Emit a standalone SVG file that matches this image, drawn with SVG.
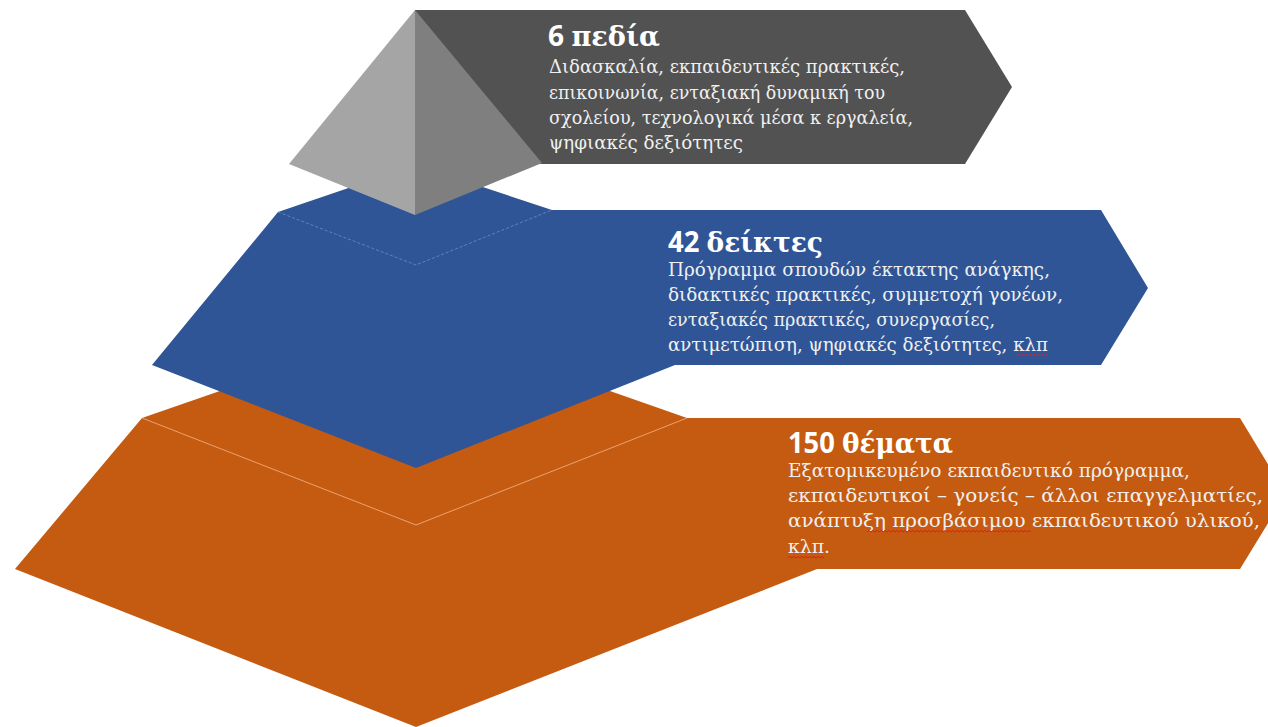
<svg xmlns="http://www.w3.org/2000/svg" width="1268" height="727" viewBox="0 0 1268 727">
<style>
.title{font-family:"Open Sans","Noto Sans",sans-serif;font-weight:bold;font-size:28px;fill:#ffffff}
.tg{font-family:"DejaVu Serif","Liberation Serif",serif;font-weight:bold;font-size:27px}
.body{font-family:"DejaVu Serif","Liberation Serif",serif;font-size:19px;fill:#f0f0f0}
.edge-b{fill:none;stroke:#7d9bd3;stroke-width:0.8;stroke-dasharray:3 2;opacity:0.8}
.edge-o{fill:none;stroke:#f2b38a;stroke-width:0.9;opacity:0.9}
.sq{fill:none;stroke:#e02020;stroke-width:1}
</style>
<rect width="1268" height="727" fill="#ffffff"/>
<g id="connectors"/>
<g id="node-bottom">
<polygon points="142,418 416,323 687,418 1240,418 1286,494 1240,569 817,569 416,727 15,569" fill="#c55a11"/>
<polyline class="edge-o" points="142,418 416,525 687,418"/>
<text class="title" x="788" y="453" textLength="165" lengthAdjust="spacingAndGlyphs">150 <tspan class="tg">θέματα</tspan></text>
<text class="body" x="788" y="477" textLength="402" lengthAdjust="spacingAndGlyphs">Εξατομικευμένο εκπαιδευτικό πρόγραμμα,</text>
<text class="body" x="788" y="502" textLength="475" lengthAdjust="spacingAndGlyphs">εκπαιδευτικοί – γονείς – άλλοι επαγγελματίες,</text>
<text class="body" x="788" y="527" textLength="472" lengthAdjust="spacingAndGlyphs">ανάπτυξη προσβάσιμου εκπαιδευτικού υλικού,</text>
<text class="body" x="788" y="553" textLength="42" lengthAdjust="spacingAndGlyphs">κλπ.</text>
<path class="sq" d="M867 532 l2 -1.6 l2 1.6 l2 -1.6 l2 1.6 l2 -1.6 l2 1.6 l2 -1.6 l2 1.6 l2 -1.6 l2 1.6 l2 -1.6 l2 1.6 l2 -1.6 l2 1.6 l2 -1.6 l2 1.6 l2 -1.6 l2 1.6 l2 -1.6 l2 1.6 l2 -1.6 l2 1.6 l2 -1.6 l2 1.6 l2 -1.6 l2 1.6 l2 -1.6 l2 1.6 l2 -1.6 l2 1.6 l2 -1.6 l2 1.6 l2 -1.6 l2 1.6 l2 -1.6 l2 1.6 l2 -1.6 l2 1.6 l2 -1.6 l2 1.6 l2 -1.6 l2 1.6 l2 -1.6 l2 1.6 l2 -1.6 l2 1.6 l2 -1.6 l2 1.6 l2 -1.6 l2 1.6 l2 -1.6 l2 1.6 l2 -1.6 l2 1.6 l2 -1.6 l2 1.6 l2 -1.6 l2 1.6 l2 -1.6 l2 1.6 l2 -1.6 l2 1.6 l2 -1.6 l2 1.6 l2 -1.6 l2 1.6 l2 -1.6 l2 1.6 l2 -1.6 l2 1.6 l2 -1.6 l2 1.6 l2 -1.6 l2 1.6 l2 -1.6 l2 1.6 l2 -1.6 l2 1.6 l2 -1.6 l2 1.6 l2 -1.6 l2 1.6"/>
<path class="sq" d="M788 558 l2 -1.6 l2 1.6 l2 -1.6 l2 1.6 l2 -1.6 l2 1.6 l2 -1.6 l2 1.6 l2 -1.6 l2 1.6 l2 -1.6 l2 1.6 l2 -1.6 l2 1.6 l2 -1.6 l2 1.6 l2 -1.6 l2 1.6"/>
</g>
<g id="node-middle">
<polygon points="278,212 416,165 552,210 1101,210 1148,288 1101,365 675,365 416,468 152,365" fill="#2f5597"/>
<polyline class="edge-b" points="278,212 416,265 552,210"/>
<text class="title" x="668" y="252" textLength="155" lengthAdjust="spacingAndGlyphs">42 <tspan class="tg">δείκτες</tspan></text>
<text class="body" x="668" y="276" textLength="382" lengthAdjust="spacingAndGlyphs">Πρόγραμμα σπουδών έκτακτης ανάγκης,</text>
<text class="body" x="668" y="301" textLength="395" lengthAdjust="spacingAndGlyphs">διδακτικές πρακτικές, συμμετοχή γονέων,</text>
<text class="body" x="668" y="326" textLength="327" lengthAdjust="spacingAndGlyphs">ενταξιακές πρακτικές, συνεργασίες,</text>
<text class="body" x="668" y="351" textLength="380" lengthAdjust="spacingAndGlyphs">αντιμετώπιση, ψηφιακές δεξιότητες, κλπ</text>
<path class="sq" d="M1016 356 l2 -1.6 l2 1.6 l2 -1.6 l2 1.6 l2 -1.6 l2 1.6 l2 -1.6 l2 1.6 l2 -1.6 l2 1.6 l2 -1.6 l2 1.6 l2 -1.6 l2 1.6 l2 -1.6 l2 1.6"/>
</g>
<g id="node-top">
<polygon points="415,10 965,10 1012,87 965,164 415,164" fill="#525252"/>
<polygon points="415,10 289,164 415,215" fill="#a5a5a5"/>
<polygon points="415,10 542,163 415,215" fill="#7f7f7f"/>
<text class="title" x="548" y="46" textLength="112" lengthAdjust="spacingAndGlyphs">6 <tspan class="tg">πεδία</tspan></text>
<text class="body" x="549" y="73" textLength="356" lengthAdjust="spacingAndGlyphs">Διδασκαλία, εκπαιδευτικές πρακτικές,</text>
<text class="body" x="549" y="99" textLength="336" lengthAdjust="spacingAndGlyphs">επικοινωνία, ενταξιακή δυναμική του</text>
<text class="body" x="549" y="124" textLength="364" lengthAdjust="spacingAndGlyphs">σχολείου, τεχνολογικά μέσα κ εργαλεία,</text>
<text class="body" x="549" y="149" textLength="194" lengthAdjust="spacingAndGlyphs">ψηφιακές δεξιότητες</text>
</g>
</svg>
